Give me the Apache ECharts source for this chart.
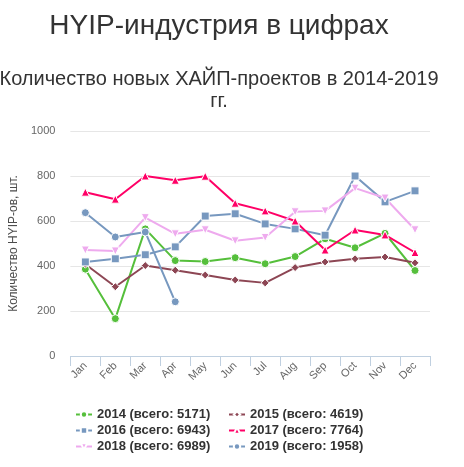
<!DOCTYPE html>
<html>
<head>
<meta charset="utf-8">
<script src="https://cdn.jsdelivr.net/npm/echarts@6/dist/echarts.min.js"></script>
<style>
html,body{margin:0;padding:0;background:#fff;}
#c{width:438px;height:467px;}
</style>
</head>
<body>
<div id="c"></div>
<script>
var months = ['Jan','Feb','Mar','Apr','May','Jun','Jul','Aug','Sep','Oct','Nov','Dec'];
var yTicks = [0, 200, 400, 600, 800, 1000];
var names = ['2014 (всего: 5171)','2015 (всего: 4619)','2016 (всего: 6943)','2017 (всего: 7764)','2018 (всего: 6989)','2019 (всего: 1958)'];
var s2014 = [386, 166, 565, 424, 420, 437, 410, 442, 521, 481, 545, 380];
var s2015 = [408, 308, 402, 381, 360, 338, 325, 393, 418, 432, 440, 414];
var s2016 = [418, 432, 450, 485, 622, 632, 587, 565, 537, 800, 685, 734];
var s2017 = [728, 697, 800, 781, 799, 679, 645, 600, 471, 560, 538, 460];
var s2018 = [471, 467, 615, 543, 561, 512, 527, 641, 645, 746, 702, 561];
var s2019 = [637, 529, 551, 241];

var colors = ['#55BF3B', '#8d4654', '#7798BF', '#ff0066', '#eeaaee', '#7798BF'];
var symbols = ['circle', 'diamond', 'rect', 'triangle', 'path://M0,0 L10,0 L5,9 Z', 'circle'];
var data = [s2014, s2015, s2016, s2017, s2018, s2019];

var chart = echarts.init(document.getElementById('c'));
var series = data.map(function (d, i) {
  return {
    name: names[i],
    type: 'line',
    data: d,
    symbol: symbols[i],
    symbolSize: 8,
    showAllSymbol: true,
    lineStyle: { width: 2, color: colors[i] },
    itemStyle: { color: colors[i], borderColor: '#ffffff', borderWidth: 1 },
    emphasis: { disabled: true }
  };
});

var legendText = { fontFamily: 'Liberation Sans, Arial, sans-serif', fontSize: 13, fontWeight: 'bold', color: '#333333' };

chart.setOption({
  animation: false,
  color: colors,
  title: [
    { text: 'HYIP-индустрия в цифрах', left: 'center', top: 7,
      textStyle: { fontFamily: 'Liberation Sans, Arial, sans-serif', fontSize: 28, fontWeight: 'normal', color: '#333333' } },
    { text: 'Количество новых ХАЙП-проектов в 2014-2019\nгг.', left: 'center', top: 63,
      textStyle: { fontFamily: 'Liberation Sans, Arial, sans-serif', fontSize: 20, fontWeight: 'normal', color: '#333333', lineHeight: 22 } }
  ],
  legend: [
    { orient: 'vertical', left: 70, top: 403, itemWidth: 16, itemHeight: 8, itemGap: 3,
      data: [names[0], names[2], names[4]], textStyle: legendText },
    { orient: 'vertical', left: 223, top: 403, itemWidth: 16, itemHeight: 8, itemGap: 3,
      data: [names[1], names[3], names[5]], textStyle: legendText }
  ],
  grid: { left: 70, right: 8, top: 131, bottom: 111 },
  xAxis: {
    type: 'category',
    data: months,
    boundaryGap: true,
    axisLine: { lineStyle: { color: '#C0D0E0', width: 1 } },
    axisTick: { show: true, length: 10, lineStyle: { color: '#C0D0E0' } },
    axisLabel: { rotate: 45, margin: 8, color: '#666666', fontSize: 11, fontFamily: 'Liberation Sans, Arial, sans-serif' }
  },
  yAxis: {
    type: 'value',
    min: yTicks[0],
    max: yTicks[yTicks.length - 1],
    interval: 200,
    name: 'Количество HYIP-ов, шт.',
    nameLocation: 'middle',
    nameRotate: 90,
    nameGap: 46,
    nameTextStyle: { color: '#4d4d4d', fontSize: 12, fontFamily: 'Liberation Sans, Arial, sans-serif' },
    axisLine: { show: false },
    axisTick: { show: false },
    axisLabel: { margin: 15, color: '#666666', fontSize: 11, fontFamily: 'Liberation Sans, Arial, sans-serif',
      formatter: function (v) { return String(v); } },
    splitLine: { lineStyle: { color: '#e6e6e6', width: 1 } }
  },
  series: series
});
</script>
</body>
</html>
